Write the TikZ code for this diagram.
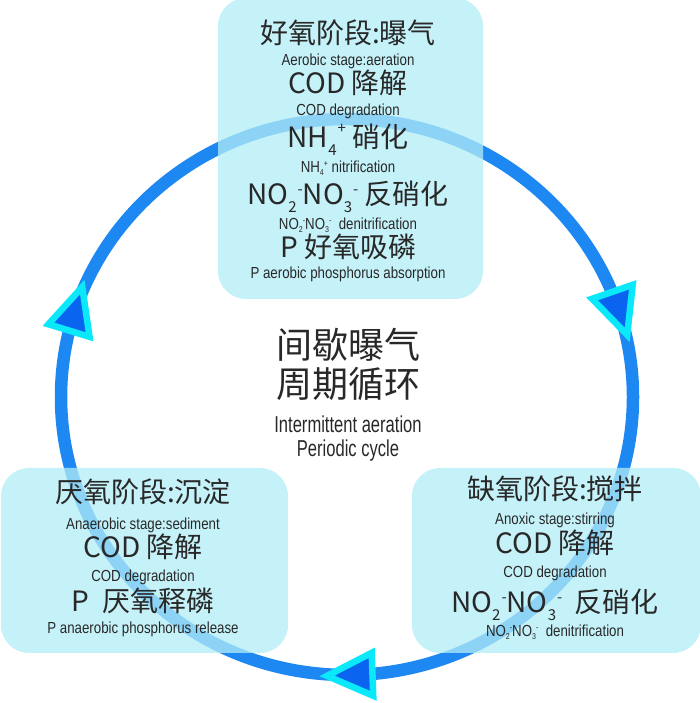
\documentclass[tikz,border=0pt]{standalone}
\usepackage{fontspec}
\setmainfont{Liberation Sans}
\newfontfamily\cjk{Noto Sans CJK SC}
\newfontfamily\cond[FakeStretch=0.83]{Liberation Sans}
\newfontfamily\condx[FakeStretch=0.72]{Liberation Sans}

\definecolor{ringblue}{RGB}{30,136,242}
\definecolor{tipblue}{RGB}{10,100,240}
\definecolor{tipcyan}{RGB}{10,232,250}
\definecolor{boxcyan}{RGB}{178,237,247}
\definecolor{txtgray}{RGB}{40,40,40}

% sub/superscript pairs for the ions
\newcommand\ionbig[3][12pt]{\raisebox{-8pt}{\fontsize{15}{15}\selectfont#2}\kern1pt\raisebox{#1}{\fontsize{15}{15}\selectfont#3}}
\newcommand\ionsml[2]{\raisebox{-2.5pt}{\fontsize{8.5}{8.5}\selectfont#1}\raisebox{6pt}{\fontsize{8.5}{8.5}\selectfont#2}}

\tikzset{
  ring/.style={draw=ringblue, line width=12.5pt},
  tip/.style={fill=tipblue, draw=tipcyan, line width=6.5pt, line join=miter},
  stage/.style={fill=boxcyan, fill opacity=0.75, rounded corners=28pt, inner sep=0pt},
  zh/.style={font=\cjk\fontsize{28}{30}\selectfont, text=txtgray, anchor=base, inner sep=0pt},
  zhbig/.style={font=\cjk\fontsize{36}{38}\selectfont, text=txtgray, anchor=base, inner sep=0pt},
  en/.style={font=\cond\fontsize{16}{18}\selectfont, text=txtgray, anchor=base, inner sep=0pt},
  enbig/.style={font=\condx\fontsize{23}{25}\selectfont, text=txtgray, anchor=base, inner sep=0pt},
}

\begin{document}
\begin{tikzpicture}[x=1pt, y=1pt]
  \useasboundingbox (0,0) rectangle (700,703);

  % 1. Vòng tuần hoàn và các mũi tên
  \draw[ring] (347,306) ellipse [x radius=286, y radius=278];
  \foreach \a in {163,19,-88} {
    \begin{scope}[shift={({347+286*cos(\a)},{306+278*sin(\a)})}, rotate=\a-90]
      \draw[tip] (30,0) -- (-15.5,21.5) -- (-15.5,-21.5) -- cycle;
    \end{scope}
  }

  % 2. Ba khung giai đoạn
  \node[stage, minimum width=265pt, minimum height=301pt] (aerobic) at (350.5,554.5) {};
  \node[stage, minimum width=287pt, minimum height=185pt] (anaerobic) at (144.5,142.5) {};
  \node[stage, minimum width=289pt, minimum height=185pt] (anoxic) at (556.5,142.5) {};

  % 3. Giai đoạn hiếu khí
  \node[zh] (aer1) at (348,659) {好氧阶段:曝气};
  \node[en] (aer2) at (348,637) {Aerobic stage:aeration};
  \node[zh] (aer3) at (348,609) {COD 降解};
  \node[en] (aer4) at (348,587) {COD degradation};
  \node[zh] (aer5) at (348,555) {NH\ionbig[14pt]{4}{+}\ 硝化};
  \node[en] (aer6) at (348,530) {NH\ionsml{4}{+} nitrification};
  \node[zh] (aer7) at (348,498) {NO\ionbig[10pt]{2}{-}NO\ionbig[10pt]{3}{-}\ 反硝化};
  \node[en] (aer8) at (348,473) {NO\ionsml{2}{-}NO\ionsml{3}{-}\ \ denitrification};
  \node[zh] (aer9) at (348,445) {P 好氧吸磷};
  \node[en] (aer10) at (348,424) {P aerobic phosphorus absorption};

  % 4. Giai đoạn kỵ khí
  \node[zh] (ana1) at (143,200) {厌氧阶段:沉淀};
  \node[en] (ana2) at (143,173) {Anaerobic stage:sediment};
  \node[zh] (ana3) at (143,145) {COD 降解};
  \node[en] (ana4) at (143,121) {COD degradation};
  \node[zh] (ana5) at (143,91) {P\ \ 厌氧释磷};
  \node[en] (ana6) at (143,69) {P anaerobic phosphorus release};

  % 5. Giai đoạn thiếu khí
  \node[zh] (ano1) at (555,203) {缺氧阶段:搅拌};
  \node[en] (ano2) at (555,178) {Anoxic stage:stirring};
  \node[zh] (ano3) at (555,149) {COD 降解};
  \node[en] (ano4) at (555,125) {COD degradation};
  \node[zh] (ano5) at (555,90) {NO\ionbig[10pt]{2}{-}NO\ionbig[10pt]{3}{-}\ \ 反硝化};
  \node[en] (ano6) at (555,66) {NO\ionsml{2}{-}NO\ionsml{3}{-}\ \ denitrification};

  % 6. Chữ ở giữa
  \node[zhbig] (cyc1) at (348,344) {间歇曝气};
  \node[zhbig] (cyc2) at (348,305) {周期循环};
  \node[enbig] (cyc3) at (348,270) {Intermittent aeration};
  \node[enbig] (cyc4) at (348,246) {Periodic cycle};
\end{tikzpicture}
\end{document}
